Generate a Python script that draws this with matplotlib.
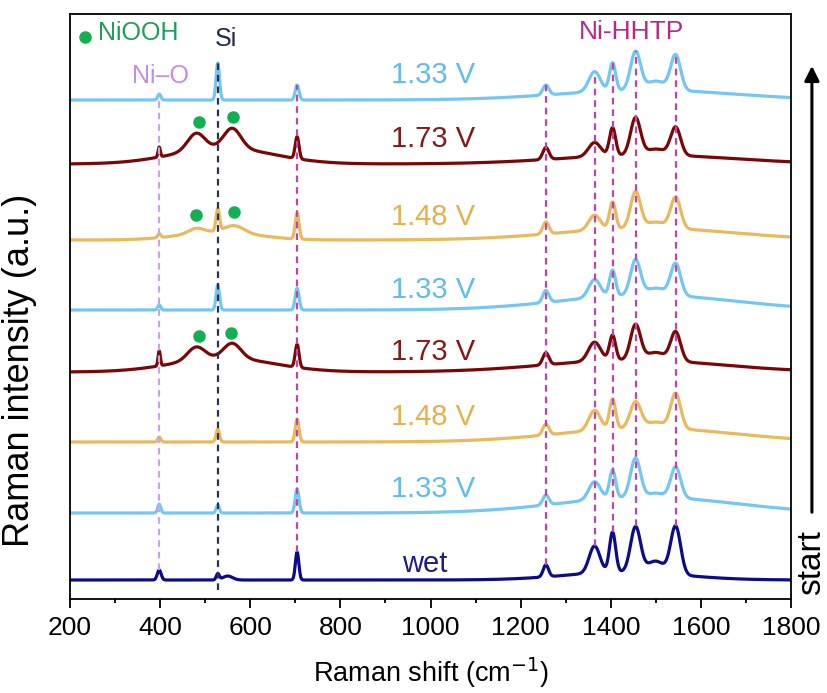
import numpy as np
import matplotlib.pyplot as plt

plt.rcParams['font.family'] = ['Liberation Sans', 'DejaVu Sans']

# Raman shift axis (cm-1)
shift = np.arange(200, 1801, 1.0)

# spectra from bottom to top: label, vertical offset, colours
labels = ['wet', '1.33 V', '1.48 V', '1.73 V', '1.33 V', '1.48 V', '1.73 V', '1.33 V']
offsets = [19, 86, 157, 227, 289, 359, 435, 499]
line_colors = ['#0b0b8c', '#74c6f3', '#eab95e', '#7a0606',
               '#74c6f3', '#eab95e', '#7a0606', '#74c6f3']
text_colors = ['#1c1c8c', '#5fbcef', '#e6b04a', '#861818',
               '#5fbcef', '#e6b04a', '#861818', '#5fbcef']
label_x = [988, 1005, 1005, 1005, 1005, 1005, 1005, 1005]
label_y = [27, 102, 174, 239, 301, 374, 452, 516]

# band parameters: (centre, height, fwhm)
peaks_wet = [(398, 10, 10), (528, 6, 8), (550, 4, 25), (704, 28, 9), (1256, 12, 14),
             (1364, 27, 28), (1404, 40, 16), (1455, 45, 26), (1500, 12, 45),
             (1544, 48, 26), (1430, 8, 300)]
peaks_133a = [(398, 9, 8), (528, 8, 8), (704, 24, 10), (1256, 10, 16), (1364, 18, 30),
              (1404, 28, 16), (1455, 39, 26), (1500, 4, 40), (1544, 31, 26),
              (1480, 16, 450)]
peaks_148a = [(398, 5, 8), (528, 13, 9), (704, 23, 10), (1256, 11, 16), (1364, 20, 30),
              (1404, 30, 16), (1455, 26, 28), (1500, 6, 50), (1544, 35, 26),
              (1480, 14, 450)]
peaks_173a = [(398, 15, 6), (540, 14, 260), (480, 13, 45), (560, 15, 45), (704, 23, 10),
              (1256, 12, 16), (1364, 19, 32), (1404, 25, 16), (1455, 35, 26),
              (1500, 8, 50), (1544, 29, 26), (1450, 12, 450)]
peaks_133b = [(398, 5, 8), (528, 25, 9), (704, 22, 10), (1256, 12, 16), (1364, 18, 30),
              (1404, 26, 16), (1455, 35, 26), (1500, 7, 50), (1544, 32, 26),
              (1480, 15, 450)]
peaks_148b = [(398, 4, 8), (530, 8, 200), (480, 5, 40), (565, 7, 50), (528, 22, 9),
              (704, 26, 10), (1256, 12, 16), (1364, 15, 30), (1404, 27, 16),
              (1455, 36, 26), (1500, 6, 50), (1544, 31, 26), (1480, 12, 450)]
peaks_173b = [(398, 10, 6), (540, 16, 260), (480, 17, 45), (560, 20, 45), (704, 22, 10),
              (1256, 12, 16), (1364, 14, 32), (1404, 28, 16), (1455, 37, 26),
              (1500, 6, 50), (1544, 28, 26), (1480, 9, 450)]
peaks_133c = [(398, 6, 8), (528, 37, 9), (704, 15, 10), (1256, 10, 16), (1364, 20, 30),
              (1404, 28, 16), (1455, 38, 26), (1500, 9, 50), (1544, 35, 26),
              (1480, 10, 450)]
all_peaks = [peaks_wet, peaks_133a, peaks_148a, peaks_173a,
             peaks_133b, peaks_148b, peaks_173b, peaks_133c]

# reference band positions
nio_x = 398
si_x = 528
hhtp_x = [704, 1256, 1364, 1404, 1455, 1544]

# NiOOH markers
niooh_x = [486, 562, 480, 564, 486, 557]
niooh_y = [477, 482, 384, 387, 263, 266]


def spectrum(peaks, offset):
    y = np.full_like(shift, float(offset))
    for c, h, w in peaks:
        s = w / 2.3548
        y += h * np.exp(-0.5 * ((shift - c) / s) ** 2)
    return y


fig = plt.figure(figsize=(8.27, 6.93), dpi=100)
ax = fig.add_axes([70 / 827, 94 / 693, 721 / 827, 585 / 693])

curves = []
for peaks, off, col in zip(all_peaks, offsets, line_colors):
    y = spectrum(peaks, off)
    curves.append(y)
    ax.plot(shift, y, color=col, lw=2.3, zorder=2)

for lab, x, y, col in zip(labels, label_x, label_y, text_colors):
    ax.text(x, y, lab, color=col, fontsize=21, ha='center', va='baseline')

# dashed guide lines
wet, top = curves[0], curves[-1]
idx = lambda x: int(round(x - 200))
for x in hhtp_x:
    ax.plot([x, x], [wet[idx(x)], top[idx(x)]], color='#c145a6', lw=1.6,
            dashes=(3, 2.2), zorder=3)
ax.plot([nio_x, nio_x], [wet[idx(nio_x)], 499], color='#c9a4e8', lw=1.6,
        dashes=(3, 2.2), zorder=3)
ax.plot([si_x, si_x], [9, 536], color='#27334f', lw=1.6, dashes=(3, 2.2), zorder=3)

ax.plot(niooh_x, niooh_y, 'o', color='#12b050', ms=8, zorder=4)

# annotations
ax.plot(233, 562, 'o', color='#12b050', ms=8)
ax.text(262, 566, 'NiOOH', color='#1e9e5a', fontsize=18, ha='left', va='center')
ax.text(546, 560, 'Si', color='#1f2b4f', fontsize=18, ha='center', va='center')
ax.text(400, 523, 'Ni\u2013O', color='#c98ae8', fontsize=18, ha='center', va='center')
ax.text(1446, 567, 'Ni-HHTP', color='#b8288f', fontsize=19, ha='center', va='center')

ax.annotate('', xy=(1.029, 0.916), xytext=(1.029, 0.1436), xycoords='axes fraction',
            arrowprops=dict(arrowstyle='-|>', lw=2.2, color='black', mutation_scale=22),
            annotation_clip=False)
ax.text(1.028, 0.0615, 'start', rotation=90, ha='center', va='center',
        transform=ax.transAxes, fontsize=24)

ax.set_xlim(200, 1800)
ax.set_ylim(0, 585)
ax.set_yticks([])
ax.set_xticks(np.arange(200, 1801, 200))
ax.set_xticks(np.arange(300, 1800, 200), minor=True)
ax.tick_params(axis='x', which='major', length=6.5, width=1.3, labelsize=19, pad=6)
ax.tick_params(axis='x', which='minor', length=3, width=1.3)
for sp in ax.spines.values():
    sp.set_linewidth(1.3)

ax.set_xlabel('Raman shift (cm$^{-1}$)', fontsize=19.5)
ax.xaxis.set_label_coords(0.5, -0.097)
ax.set_ylabel('Raman intensity (a.u.)', fontsize=26)
ax.yaxis.set_label_coords(-0.046, 0.39)

fig.savefig('out.png', dpi=100)
